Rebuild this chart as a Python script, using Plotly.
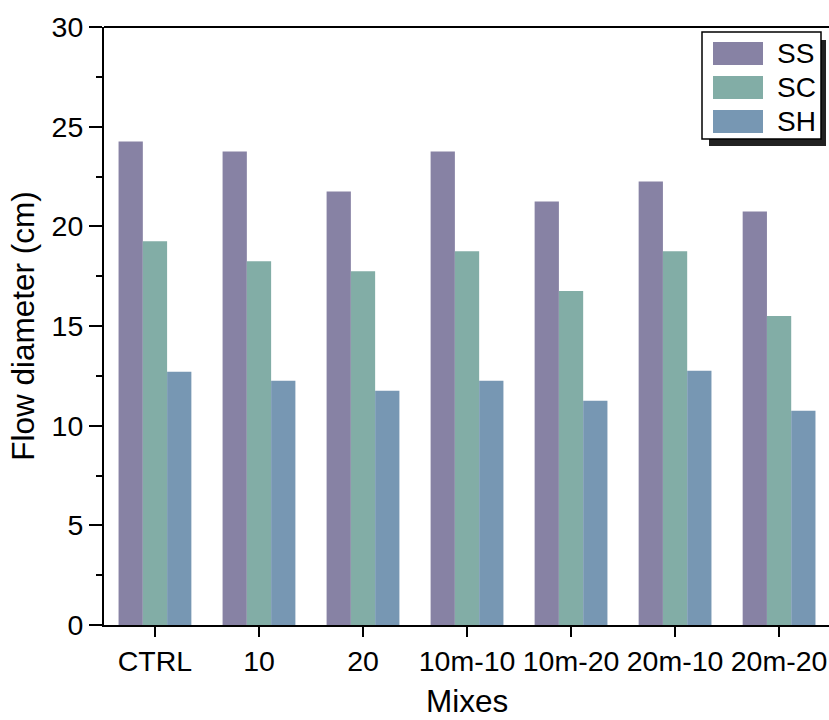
import plotly.graph_objects as go

categories = ["CTRL", "10", "20", "10m-10", "10m-20", "20m-10", "20m-20"]
series_names = ["SS", "SC", "SH"]
ss_values = [24.25, 23.75, 21.75, 23.75, 21.25, 22.25, 20.75]
sc_values = [19.25, 18.25, 17.75, 18.75, 16.75, 18.75, 15.5]
sh_values = [12.7, 12.25, 11.75, 12.25, 11.25, 12.75, 10.75]
colors = ["#8782A4", "#82ADA6", "#7797B3"]

W, H = 829, 720
ML, MR, MT, MB = 104, 0, 27, 95
PW, PH = W - ML - MR, H - MT - MB

def px(x):
    return (x - ML) / PW

def py(y):
    return (H - MB - y) / PH

FONT = "Arial, Liberation Sans, Helvetica, sans-serif"

fig = go.Figure()
for name, vals, col in zip(series_names, [ss_values, sc_values, sh_values], colors):
    fig.add_trace(go.Bar(name=name, x=categories, y=vals, marker=dict(color=col, line=dict(width=0)),
                         showlegend=False))

fig.update_layout(
    width=W, height=H,
    margin=dict(l=ML, r=MR, t=MT, b=MB, pad=0, autoexpand=False),
    paper_bgcolor="white", plot_bgcolor="white",
    barmode="group", bargap=0.3, bargroupgap=0,
    font=dict(family=FONT, color="black", size=28),
)
fig.update_xaxes(
    range=[-0.49, 6.48], showgrid=False, zeroline=False, automargin=False,
    showline=True, linecolor="black", linewidth=2, mirror=False,
    ticks="outside", ticklen=10, tickwidth=2, tickcolor="black",
    tickfont=dict(size=28.5),
)
fig.update_yaxes(
    range=[0, 30], showgrid=False, zeroline=False, automargin=False,
    showline=True, linecolor="black", linewidth=2, mirror=False,
    ticks="outside", ticklen=13, tickwidth=2, tickcolor="black",
    tickvals=[0, 5, 10, 15, 20, 25, 30],
    tickfont=dict(size=28.5),
    minor=dict(ticks="outside", ticklen=6, tickwidth=2, tickcolor="black", dtick=2.5, tick0=0),
    title=dict(text="Flow diameter (cm)", font=dict(size=31.5), standoff=8),
)

# x-axis title placed below tick labels
fig.add_annotation(xref="paper", yref="paper", x=0.5, y=py(701), text="Mixes", showarrow=False,
                   xanchor="center", yanchor="middle", font=dict(size=31.5, family=FONT, color="black"))

shapes = []
# top frame line
shapes.append(dict(type="line", xref="paper", yref="paper", x0=0, x1=1, y0=1, y1=1,
                   line=dict(color="black", width=2), layer="above"))
# legend drawn as shapes
shapes.append(dict(type="rect", xref="paper", yref="paper", x0=px(709), x1=px(826), y0=py(40), y1=py(146),
                   fillcolor="#222222", line=dict(width=0), layer="above"))
shapes.append(dict(type="rect", xref="paper", yref="paper", x0=px(702), x1=px(821), y0=py(32), y1=py(139),
                   fillcolor="white", line=dict(color="black", width=1.5), layer="above"))
sw_tops = [42, 76, 110]
for name, col, top in zip(series_names, colors, sw_tops):
    shapes.append(dict(type="rect", xref="paper", yref="paper", x0=px(713), x1=px(763), y0=py(top), y1=py(top + 23),
                       fillcolor=col, line=dict(width=0), layer="above"))
    fig.add_annotation(xref="paper", yref="paper", x=px(775), y=py(top + 11.5), text=name, showarrow=False,
                       xanchor="left", yanchor="middle", font=dict(size=28, family=FONT, color="black"))
fig.update_layout(shapes=shapes)

fig.write_html("out.html", config={"staticPlot": True})
